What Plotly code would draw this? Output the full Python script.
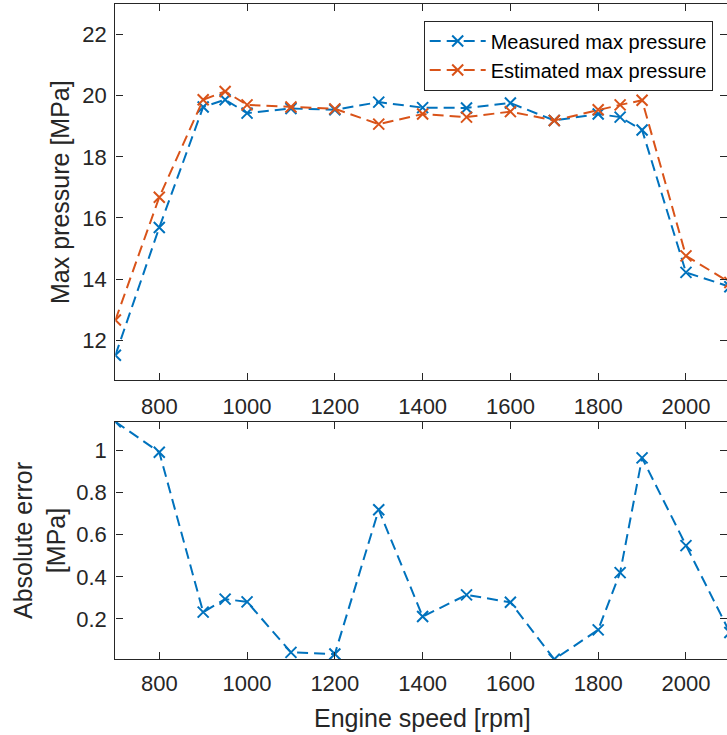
import plotly.graph_objects as go

# ---- data ----
rpm = [700, 800, 900, 950, 1000, 1100, 1200, 1300, 1400, 1500, 1600, 1700, 1800, 1850, 1900, 2000, 2100]
measured = [11.51, 15.69, 19.63, 19.87, 19.43, 19.58, 19.54, 19.79, 19.61, 19.60, 19.76, 19.19, 19.40, 19.30, 18.88, 14.22, 13.75]
estimated = [12.66, 16.68, 19.87, 20.14, 19.70, 19.63, 19.57, 19.07, 19.40, 19.30, 19.48, 19.19, 19.54, 19.70, 19.85, 14.76, 13.89]
abs_error = [1.137, 0.992, 0.232, 0.294, 0.281, 0.041, 0.033, 0.719, 0.211, 0.314, 0.279, 0.008, 0.148, 0.420, 0.965, 0.548, 0.135]

x_ticks = [800, 1000, 1200, 1400, 1600, 1800, 2000]
p_ticks = [12, 14, 16, 18, 20, 22]
e_ticks = [0.2, 0.4, 0.6, 0.8, 1]
e_ticktext = ["0.2", "0.4", "0.6", "0.8", "1"]

BLUE = "#0072BD"
ORANGE = "#D95319"
AX = "#262626"
FONT = "Liberation Sans, Arial, Helvetica, sans-serif"

W, H = 727, 735
x_left = 115.4
top_px = (4, 380)
bot_px = (421.7, 659.3)

fig = go.Figure()

def series(x, y, name, color, xa, ya, show):
    return go.Scatter(
        x=x, y=y, name=name, mode="lines+markers",
        line=dict(color=color, width=2, dash="11px,6px"),
        marker=dict(symbol="x-thin", size=11, color=color,
                    line=dict(color=color, width=2)),
        xaxis=xa, yaxis=ya, showlegend=show,
    )

fig.add_trace(series(rpm, measured, "Measured max pressure", BLUE, "x", "y", True))
fig.add_trace(series(rpm, estimated, "Estimated max pressure", ORANGE, "x", "y", True))
fig.add_trace(series(rpm, abs_error, "Absolute error", BLUE, "x2", "y2", False))

x_range = [700, 700 + (W - x_left) / 0.4389]

axis_common = dict(
    showline=True, linecolor=AX, linewidth=1.3, mirror="ticks",
    ticks="inside", ticklen=7, tickwidth=1.3, tickcolor=AX,
    showgrid=False, zeroline=False,
    tickfont=dict(family=FONT, size=22, color=AX),
    automargin=False,
)

fig.update_layout(
    width=W, height=H,
    margin=dict(l=0, r=0, t=0, b=0),
    paper_bgcolor="white", plot_bgcolor="white",
    font=dict(family=FONT, color=AX),
    xaxis=dict(domain=[x_left / W, 1], range=x_range, tickvals=x_ticks,
               anchor="y", ticklabelstandoff=6, **axis_common),
    yaxis=dict(domain=[1 - top_px[1] / H, 1 - top_px[0] / H], range=[10.7, 23],
               tickvals=p_ticks, anchor="x", ticklabelstandoff=3, **axis_common),
    xaxis2=dict(domain=[x_left / W, 1], range=x_range, tickvals=x_ticks,
                anchor="y2", ticklabelstandoff=4, **axis_common),
    yaxis2=dict(domain=[1 - bot_px[1] / H, 1 - bot_px[0] / H],
                range=[min(abs_error), max(abs_error)],
                tickvals=e_ticks, ticktext=e_ticktext, anchor="x2",
                ticklabelstandoff=3, **axis_common),
    legend=dict(
        x=712.7 / W, y=1 - 20.5 / H, xanchor="right", yanchor="top",
        bgcolor="white", bordercolor=AX, borderwidth=1,
        font=dict(family=FONT, size=20, color="#000000"),
        itemwidth=56, tracegroupgap=0,
    ),
    annotations=[
        dict(text="Max pressure [MPa]", x=60 / W, y=1 - 192 / H, xref="paper", yref="paper",
             textangle=-90, showarrow=False, xanchor="center", yanchor="middle",
             font=dict(family=FONT, size=25, color=AX)),
        dict(text="Absolute error<br>[MPa]", x=39 / W, y=1 - 541 / H, xref="paper", yref="paper",
             textangle=-90, showarrow=False, xanchor="center", yanchor="middle",
             font=dict(family=FONT, size=25, color=AX)),
        dict(text="Engine speed [rpm]", x=422 / W, y=1 - 718 / H, xref="paper", yref="paper",
             showarrow=False, xanchor="center", yanchor="middle",
             font=dict(family=FONT, size=25, color=AX)),
    ],
)

fig.write_html("out.html")
